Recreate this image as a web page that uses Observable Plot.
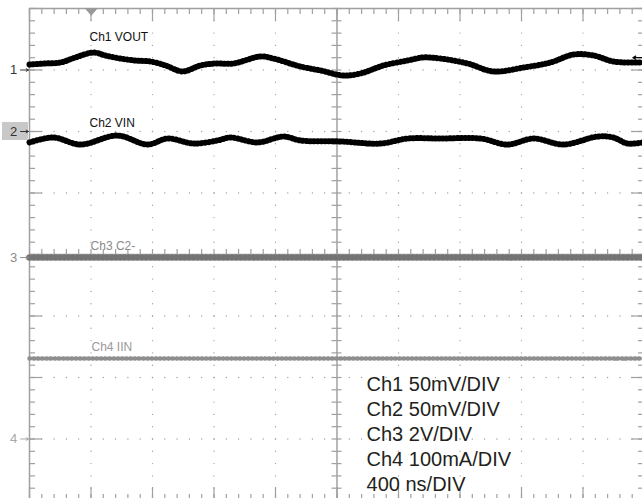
<!DOCTYPE html>
<html>
<head>
<meta charset="utf-8">
<script src="https://cdn.jsdelivr.net/npm/d3@7"></script>
<script src="https://cdn.jsdelivr.net/npm/@observablehq/plot@0.6"></script>
<style>
  html, body { margin: 0; padding: 0; background: #fff; }
  #chart { width: 642px; height: 498px; overflow: hidden; }
</style>
</head>
<body>
<div id="chart"></div>
<script>
// ---------- data (read from the scope capture) ----------
// time in ns (400 ns/div), values in each channel's own unit
const ch1TimeNs = [0, 104, 202, 299, 416, 494, 592, 689, 787, 885, 995, 1112, 1210, 1327, 1502, 1587, 1763, 1893, 2042, 2153, 2303, 2459, 2563, 2673, 2849, 3018, 3213, 3389, 3538, 3668, 3798, 3987];
const ch1mV     = [4.5, 5.3, 6.1, 10.2, 14.2, 11.8, 9.3, 7.7, 6.9, 3.7, -1.2, 3.7, 5.3, 5.3, 11.0, 9.3, 2.8, -0.4, -4.5, -2.8, 3.7, 7.7, 10.2, 9.3, 5.3, -1.2, 2.0, 6.1, 12.6, 11.8, 6.9, 6.1];

const ch2TimeNs = [0, 156, 332, 572, 768, 898, 1067, 1223, 1307, 1483, 1652, 1763, 2023, 2283, 2459, 2673, 2933, 3109, 3278, 3473, 3694, 3798, 3889, 3987];
const ch2mV     = [-8.9, -4.9, -10.6, -3.3, -10.6, -5.7, -9.8, -7.3, -4.9, -8.9, -4.1, -7.3, -8.1, -9.8, -5.7, -5.7, -5.7, -10.6, -5.7, -10.6, -4.1, -4.9, -9.8, -8.9];

const ch3TimeNs = [0, 1000, 2000, 3000, 3987];
const ch3V      = [0, 0, 0, 0, 0];

const ch4TimeNs = [0, 1000, 2000, 3000, 3987];
const ch4mA     = [131, 131, 131, 131, 131];

const channelNames   = ["Ch1 VOUT", "Ch2 VIN", "Ch3 C2-", "Ch4 IIN"];
const channelNumbers = ["1", "2", "3", "4"];
const voltsPerDiv    = [50, 50, 2, 100];      // mV, mV, V, mA per division
const channelOffsetDiv = [3, 2, -0.05, -3];   // ground marker positions (divisions)
const settingLines = ["Ch1 50mV/DIV", "Ch2 50mV/DIV", "Ch3 2V/DIV", "Ch4 100mA/DIV", "400 ns/DIV"];

// ---------- derived tables ----------
const NS_PER_DIV = 400;
function toTrace(times, vals, ch) {
  return times.map((t, i) => ({t, div: channelOffsetDiv[ch] + vals[i] / voltsPerDiv[ch]}));
}
const tr1 = toTrace(ch1TimeNs, ch1mV, 0);
const tr2 = toTrace(ch2TimeNs, ch2mV, 1);
const tr3 = toTrace(ch3TimeNs, ch3V, 2);
const tr4 = toTrace(ch4TimeNs, ch4mA, 3);

// graticule
const PX = 61.5;                     // pixels per division
const pxX = NS_PER_DIV / PX;         // ns per pixel
const pxY = 1 / PX;                  // div per pixel
const xMinor = d3.range(0, 51).map(i => i * NS_PER_DIV / 5);
const yMinor = d3.range(0, 41).map(i => +(i * 0.2 - 4).toFixed(2));
const xMajorInner = [1, 2, 3, 4, 6, 7, 8, 9].map(i => i * NS_PER_DIV);
const yMajorInner = [-3, -2, -1, 1, 2, 3];
const xMajorAll = d3.range(0, 11).map(i => i * NS_PER_DIV);
const yMajorAll = d3.range(-4, 5);

const gridDots = [];
for (const x of xMajorInner) for (const y of yMinor) gridDots.push({x, y});
for (const y of yMajorInner) for (const x of xMinor) gridDots.push({x, y});

const G = "#a0a0a0";

const markerLayout = [
  {x: -104, color: "#333"},
  {x: -104, color: "#333"},
  {x: -104, color: "#8a8a8a"},
  {x: -104, color: "#a8a8a8"}
];
const labelLayout = [
  {x: 390, y: 3.528, color: "#111"},
  {x: 390, y: 2.138, color: "#111"},
  {x: 397, y: 0.130, color: "#8a8a8a"},
  {x: 403, y: -1.512, color: "#9a9a9a"}
];

// a trace = solid core + a sparse dashed wide stroke that draws the noise "fuzz"
function trace(data, color, core, fuzz, dash) {
  return [
    Plot.line(data, {x: "t", y: "div", stroke: color, strokeWidth: core, curve: "catmull-rom", strokeLinejoin: "round"}),
    Plot.line(data, {x: "t", y: "div", stroke: color, strokeWidth: fuzz, curve: "catmull-rom", strokeDasharray: dash})
  ];
}

const plot = Plot.plot({
  width: 642,
  height: 498,
  marginLeft: 29, marginTop: 8, marginRight: 0, marginBottom: 0,
  x: {domain: [0, 10 * NS_PER_DIV], range: [29, 29 + 10 * PX], axis: null},
  y: {domain: [-4, 4], range: [8 + 8 * PX, 8], axis: null},
  style: {fontFamily: "'Liberation Sans', Arial, sans-serif", background: "#fff", overflow: "hidden"},
  marks: [
    // dotted graticule
    Plot.dot(gridDots, {x: "x", y: "y", r: 0.7, fill: G, stroke: null}),
    // center cross
    Plot.ruleX([5 * NS_PER_DIV], {stroke: G, strokeWidth: 1.5}),
    Plot.ruleY([0], {stroke: G, strokeWidth: 1.5}),
    Plot.ruleY(yMinor, {y: d => d, x1: 5 * NS_PER_DIV - 5 * pxX, x2: 5 * NS_PER_DIV + 5 * pxX, stroke: G, strokeWidth: 1.2}),
    Plot.ruleX(xMinor, {x: d => d, y1: -5 * pxY, y2: 5 * pxY, stroke: G, strokeWidth: 1.2}),
    // frame
    Plot.ruleX([0], {stroke: G, strokeWidth: 1.5}),
    Plot.ruleY([4], {stroke: G, strokeWidth: 1.5}),
    // edge ticks: left, right
    Plot.ruleY(yMinor, {y: d => d, x1: 0, x2: 6 * pxX, stroke: G, strokeWidth: 1.2}),
    Plot.ruleY(yMajorAll, {y: d => d, x1: 0, x2: 13 * pxX, stroke: G, strokeWidth: 1.2}),
    Plot.ruleY(yMinor, {y: d => d, x1: 10 * NS_PER_DIV - 6 * pxX, x2: 10 * NS_PER_DIV, stroke: G, strokeWidth: 1.2}),
    Plot.ruleY(yMajorAll, {y: d => d, x1: 10 * NS_PER_DIV - 13 * pxX, x2: 10 * NS_PER_DIV, stroke: G, strokeWidth: 1.2}),
    // edge ticks: top, bottom
    Plot.ruleX(xMinor, {x: d => d, y1: 4, y2: 4 - 6 * pxY, stroke: G, strokeWidth: 1.2}),
    Plot.ruleX(xMajorAll, {x: d => d, y1: 4, y2: 4 - 13 * pxY, stroke: G, strokeWidth: 1.2}),
    Plot.ruleX(xMinor, {x: d => d, y1: -4, y2: -4 + 6 * pxY, stroke: G, strokeWidth: 1.2}),
    Plot.ruleX(xMajorAll, {x: d => d, y1: -4, y2: -4 + 13 * pxY, stroke: G, strokeWidth: 1.2}),
    // trigger position marker (top)
    Plot.line([{x: NS_PER_DIV - 6 * pxX, y: 4}, {x: NS_PER_DIV + 6 * pxX, y: 4}, {x: NS_PER_DIV, y: 4 - 7 * pxY}],
      {x: "x", y: "y", fill: "#999", stroke: "#999", strokeWidth: 1}),
    // traces
    ...trace(tr4, "#8e8e8e", 1.8, 4.5, "0.7 3.5"),
    ...trace(tr3, "#747474", 2, 6.5, "0.7 3.6"),
    ...trace(tr2, "#000", 2.6, 6, "0.7 3"),
    ...trace(tr1, "#000", 2.6, 6, "0.7 3"),
    // channel labels
    Plot.text(channelNames, {
      x: (d, i) => labelLayout[i].x, y: (d, i) => labelLayout[i].y, text: d => d,
      fill: (d, i) => labelLayout[i].color, fontSize: 12, textAnchor: "start", lineAnchor: "middle"
    }),
    // ground markers on the left
    Plot.rect([1], {x1: -27 * pxX, x2: -1 * pxX, y1: 2 - 9 * pxY, y2: 2 + 9 * pxY, fill: "#c8c8c8"}),
    Plot.text(channelNumbers, {
      x: (d, i) => markerLayout[i].x, y: (d, i) => channelOffsetDiv[i], text: d => d,
      fill: (d, i) => markerLayout[i].color, fontSize: 13, textAnchor: "middle", lineAnchor: "middle"
    }),
    Plot.arrow(channelNumbers, {
      x1: -9 * pxX, x2: -1 * pxX, y1: (d, i) => channelOffsetDiv[i], y2: (d, i) => channelOffsetDiv[i],
      stroke: (d, i) => markerLayout[i].color, strokeWidth: 1, headLength: 4
    }),
    // trigger level marker on the right
    Plot.arrow([1], {x1: 3985, x2: 3925, y1: 3.2, y2: 3.2, stroke: "#000", strokeWidth: 1.3, headLength: 5}),
    // settings annotation
    Plot.text([settingLines.join("\n")], {
      x: 2192, y: (254 - 372.5) / PX, text: d => d, fill: "#231f20",
      fontSize: 20, textAnchor: "start", lineAnchor: "top", lineHeight: 1.255
    })
  ]
});
document.getElementById("chart").appendChild(plot);
</script>
</body>
</html>
